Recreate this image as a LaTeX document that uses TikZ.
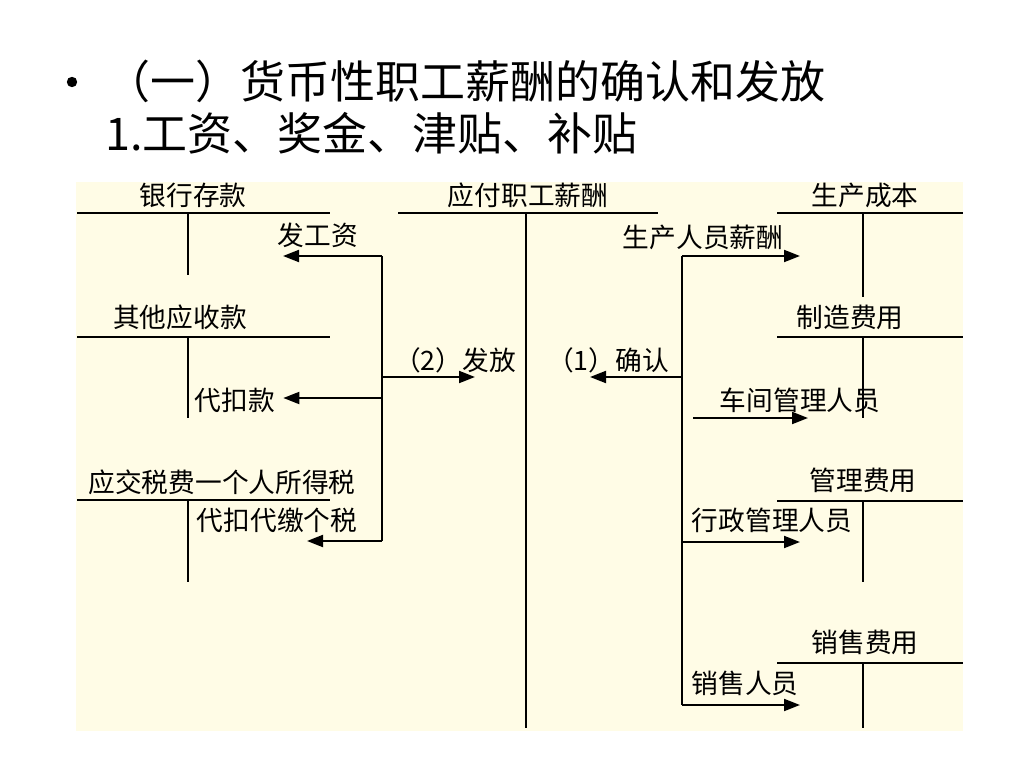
\documentclass[tikz,border=0pt]{standalone}
\usepackage{fontspec}
\setmainfont{Noto Sans CJK SC}
\usepackage{xcolor}
\usepackage{tikz}
\usetikzlibrary{arrows.meta}
\definecolor{ledgerbg}{RGB}{255,252,230}
\tikzset{
  tline/.style={line width=1.4pt},
  flowarrow/.style={line width=1.4pt,-{Triangle[length=0.4cm,width=0.3cm]}},
  lbl/.style={inner sep=0pt,font=\fontsize{19}{22}\selectfont},
  headline/.style={inner sep=0pt,anchor=west,font=\fontsize{32}{38}\selectfont}
}
\begin{document}
\begin{tikzpicture}
  \useasboundingbox (0,0) rectangle (25.6,-19.2);
  \fill[ledgerbg] (1.9,-4.55) rectangle (24.08,-18.28);
  % heading
  \fill (1.8,-2.05) circle (0.13);
  \node[headline] (title1) at (2.625,-2.025) {（一）货币性职工薪酬的确认和发放};
  \node[headline] (title2) at (2.625,-3.325) {1.工资、奖金、津贴、补贴};
  % left accounts
  \node[lbl] (bank) at (4.825,-4.875) {银行存款};
  \draw[tline] (1.925,-5.325) -- (8.25,-5.325);
  \draw[tline] (4.7,-5.325) -- (4.7,-6.875);
  \node[lbl] (otherrec) at (4.5,-7.925) {其他应收款};
  \draw[tline] (1.925,-8.425) -- (8.25,-8.425);
  \draw[tline] (4.7,-8.425) -- (4.7,-10.45);
  \node[lbl] (taxpay) at (5.55,-12.05) {应交税费一个人所得税};
  \draw[tline] (1.925,-12.5) -- (8.25,-12.5);
  \draw[tline] (4.7,-12.5) -- (4.7,-14.55);
  % middle account
  \node[lbl] (payroll) at (13.2,-4.875) {应付职工薪酬};
  \draw[tline] (9.95,-5.325) -- (16.45,-5.325);
  \draw[tline] (13.15,-5.325) -- (13.15,-18.2);
  % right accounts
  \node[lbl] (prodcost) at (21.625,-4.875) {生产成本};
  \draw[tline] (19.425,-5.325) -- (24.075,-5.325);
  \draw[tline] (21.575,-5.325) -- (21.575,-7.425);
  \node[lbl] (mfgoh) at (21.25,-7.925) {制造费用};
  \draw[tline] (19.425,-8.425) -- (24.075,-8.425);
  \draw[tline] (21.575,-8.425) -- (21.575,-10.45);
  \node[lbl] (adminexp) at (21.575,-12.0) {管理费用};
  \draw[tline] (19.425,-12.525) -- (24.075,-12.525);
  \draw[tline] (21.575,-12.525) -- (21.575,-14.55);
  \node[lbl] (sellexp) at (21.625,-16.05) {销售费用};
  \draw[tline] (19.425,-16.575) -- (24.075,-16.575);
  \draw[tline] (21.575,-16.575) -- (21.575,-18.2);
  % (2) payout
  \coordinate (ltop) at (9.55,-6.4);
  \coordinate (lmid) at (9.55,-9.425);
  \coordinate (ldeduct) at (9.55,-9.95);
  \coordinate (lbot) at (9.55,-13.525);
  \draw[tline] (ltop) -- (lbot);
  \node[lbl] (payout) at (7.95,-5.875) {发工资};
  \coordinate (payoutend) at (7.075,-6.4);
  \draw[flowarrow] (ltop) -- (payoutend);
  \node[lbl] (issue) at (11.375,-9.0) {（2）发放};
  \coordinate (issueend) at (11.875,-9.425);
  \draw[flowarrow] (lmid) -- (issueend);
  \node[lbl] (deduct) at (5.875,-10.0) {代扣款};
  \draw[flowarrow] (ldeduct) -- ([xshift=0.2cm]deduct.east |- ldeduct);
  \node[lbl] (withhold) at (6.925,-13.0) {代扣代缴个税};
  \coordinate (withholdend) at (7.675,-13.525);
  \draw[flowarrow] (lbot) -- (withholdend);
  % (1) recognition
  \coordinate (rtop) at (17.05,-6.4);
  \coordinate (rmid) at (17.05,-9.425);
  \coordinate (radmin) at (17.05,-13.55);
  \coordinate (rbot) at (17.05,-17.625);
  \draw[tline] (rtop) -- (rbot);
  \node[lbl] (prodstaff) at (17.575,-5.925) {生产人员薪酬};
  \coordinate (prodend) at (20.0,-6.4);
  \draw[flowarrow] (rtop) -- (prodend);
  \node[lbl] (recog) at (15.2,-9.0) {（1）确认};
  \coordinate (recogend) at (14.75,-9.425);
  \draw[flowarrow] (rmid) -- (recogend);
  \node[lbl] (workshop) at (20.0,-10.0) {车间管理人员};
  \coordinate (wsstart) at (17.325,-10.45);
  \coordinate (wsend) at (20.2,-10.45);
  \draw[flowarrow] (wsstart) -- (wsend);
  \node[lbl] (adminstaff) at (19.3,-13.0) {行政管理人员};
  \coordinate (adminend) at (20.0,-13.55);
  \draw[flowarrow] (radmin) -- (adminend);
  \node[lbl] (salesstaff) at (18.625,-17.075) {销售人员};
  \coordinate (salesend) at (20.0,-17.625);
  \draw[flowarrow] (rbot) -- (salesend);
\end{tikzpicture}
\end{document}
